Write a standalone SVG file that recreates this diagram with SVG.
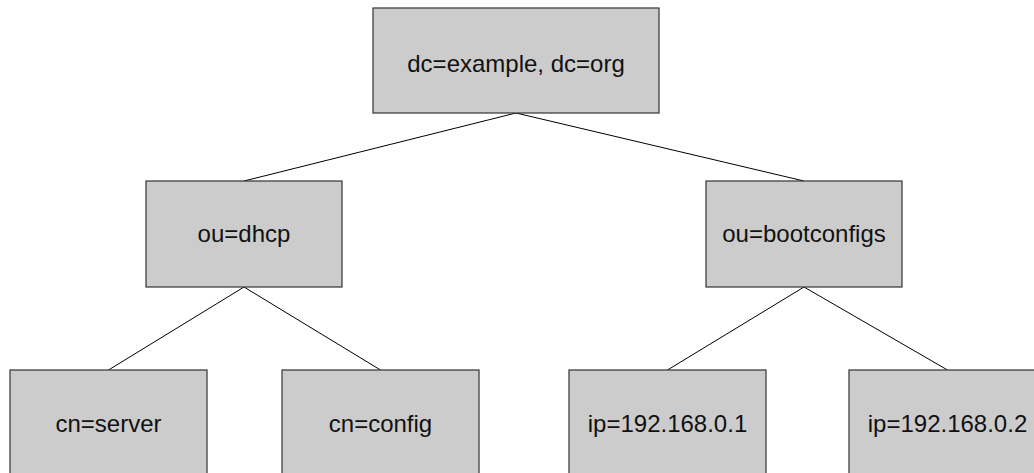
<svg xmlns="http://www.w3.org/2000/svg" width="1034" height="473" viewBox="0 0 1034 473">
  <style>
    .box { fill: #cccccc; stroke: #333333; stroke-width: 1.2; }
    .label { font-family: "Liberation Sans", Arial, sans-serif; font-size: 24px; fill: #111111; text-anchor: middle; }
    .edge { stroke: #000000; stroke-width: 1; fill: none; }
  </style>
  <rect width="1034" height="473" fill="#ffffff"/>

  <!-- tree edges -->
  <g id="connectors">
    <line class="edge" x1="516" y1="113" x2="244" y2="181"/>
    <line class="edge" x1="516" y1="113" x2="804" y2="181"/>
    <line class="edge" x1="244" y1="287" x2="108.5" y2="370"/>
    <line class="edge" x1="244" y1="287" x2="380.5" y2="370"/>
    <line class="edge" x1="804" y1="287" x2="667.5" y2="370"/>
    <line class="edge" x1="804" y1="287" x2="947.5" y2="370"/>
  </g>

  <g id="root">
    <rect class="box" x="373" y="8" width="286" height="105"/>
    <text class="label" x="516" y="71.5">dc=example, dc=org</text>
  </g>

  <g id="ou-dhcp">
    <rect class="box" x="146" y="181" width="196" height="106"/>
    <text class="label" x="244" y="242">ou=dhcp</text>
  </g>

  <g id="ou-bootconfigs">
    <rect class="box" x="706" y="181" width="196" height="106"/>
    <text class="label" x="804" y="242">ou=bootconfigs</text>
  </g>

  <g id="cn-server">
    <rect class="box" x="10" y="370" width="197" height="120"/>
    <text class="label" x="108.5" y="432">cn=server</text>
  </g>

  <g id="cn-config">
    <rect class="box" x="282" y="370" width="197" height="120"/>
    <text class="label" x="380.5" y="432">cn=config</text>
  </g>

  <g id="ip-1">
    <rect class="box" x="569" y="370" width="197" height="120"/>
    <text class="label" x="667.5" y="432">ip=192.168.0.1</text>
  </g>

  <g id="ip-2">
    <rect class="box" x="849" y="370" width="197" height="120"/>
    <text class="label" x="947.5" y="432">ip=192.168.0.2</text>
  </g>
</svg>
